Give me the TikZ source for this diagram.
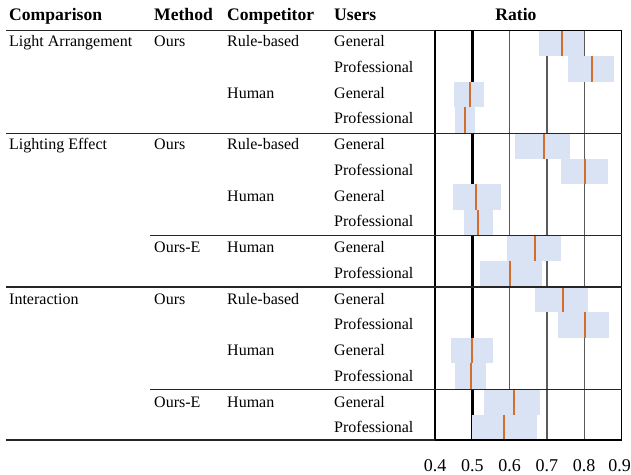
\documentclass[tikz,border=0pt]{standalone}
\usepackage{fontspec}
\setmainfont{Liberation Serif}
\definecolor{boxfill}{HTML}{DAE3F3}
\definecolor{medianline}{HTML}{D46E2C}
\definecolor{gridgray}{HTML}{5A5A5A}
\begin{document}
\begin{tikzpicture}[x=1pt,y=-1pt,
  body/.style={anchor=base west, inner sep=0pt, font=\fontsize{16}{19}\selectfont},
  head/.style={anchor=base west, inner sep=0pt, font=\fontsize{17.6}{21}\selectfont\bfseries},
  ticklabel/.style={anchor=base, inner sep=0pt, font=\fontsize{18}{21}\selectfont},
  tablerule/.style={line width=1.2pt, black!85},
  gridline/.style={line width=1.2pt, gridgray},
  border/.style={line width=1.2pt, black},
  chance/.style={line width=2.6pt, black},
  iqr/.style={fill=boxfill, draw=none},
  med/.style={line width=2pt, medianline}]
\useasboundingbox (0,0) rectangle (631,474);

% ---- header ----
\node[head] (hcmp) at (9,20) {Comparison};
\node[head] (hmth) at (154,20) {Method};
\node[head] (hcpt) at (227,20) {Competitor};
\node[head] (husr) at (334,20) {Users};
\node[head, anchor=base] (hrat) at (516,20) {Ratio};

% ---- table text, one entry per row: comparison / method / competitor / users ----
\foreach \i/\cmp/\mth/\cpt/\usr in {
  1/Light Arrangement/Ours/Rule-based/General,
  2/{}/{}/{}/Professional,
  3/{}/{}/Human/General,
  4/{}/{}/{}/Professional,
  5/Lighting Effect/Ours/Rule-based/General,
  6/{}/{}/{}/Professional,
  7/{}/{}/Human/General,
  8/{}/{}/{}/Professional,
  9/{}/Ours-E/Human/General,
  10/{}/{}/{}/Professional,
  11/Interaction/Ours/Rule-based/General,
  12/{}/{}/{}/Professional,
  13/{}/{}/Human/General,
  14/{}/{}/{}/Professional,
  15/{}/Ours-E/Human/General,
  16/{}/{}/{}/Professional}{
  \pgfmathsetmacro\yb{46.6+25.75*(\i-1)}
  \node[body] (cmp\i) at (9,\yb) {\cmp};
  \node[body] (mth\i) at (154,\yb) {\mth};
  \node[body] (cpt\i) at (227,\yb) {\cpt};
  \node[body] (usr\i) at (334,\yb) {\usr};
}

% ---- ratio plot: x in ratio units, y in pixels ----
\begin{scope}[x=373pt, shift={(285.8pt,0pt)}]
  % interquartile boxes and medians
  \foreach \i/\lo/\hi/\md in {
    1/0.679/0.799/0.740,
    2/0.756/0.881/0.822,
    3/0.451/0.532/0.493,
    4/0.454/0.508/0.481,
    5/0.615/0.763/0.692,
    6/0.738/0.863/0.802,
    7/0.447/0.577/0.510,
    8/0.478/0.556/0.516,
    9/0.594/0.739/0.669,
    10/0.521/0.687/0.602,
    11/0.667/0.811/0.744,
    12/0.730/0.866/0.802,
    13/0.443/0.556/0.500,
    14/0.454/0.537/0.496,
    15/0.531/0.681/0.612,
    16/0.500/0.673/0.584}{
    \pgfmathsetmacro\yt{30.5+25.6*(\i-1)}
    \pgfmathsetmacro\ybt{\yt+25.6}
    \coordinate (blo\i) at (\lo,\yt);
    \coordinate (bhi\i) at (\hi,\ybt);
    \coordinate (mt\i) at (\md,\yt);
    \coordinate (mb\i) at (\md,\ybt);
  }
  % grid behind the boxes
  \foreach \v/\k in {0.6/6,0.7/7,0.8/8}{
    \coordinate (gt\k) at (\v,30.5);
    \coordinate (gb\k) at (\v,440);
    \draw[gridline] (gt\k) -- (gb\k);
  }
  \coordinate (ct) at (0.5,30.5);
  \coordinate (cb) at (0.5,440);
  \draw[chance] (ct) -- (cb);
  \foreach \i in {1,...,16}{
    \path[iqr] (blo\i) rectangle (bhi\i);
    \draw[med] (mt\i) -- (mb\i);
  }
  % frame
  \coordinate (pNW) at (0.4,30.5);
  \coordinate (pSE) at (0.9,440);
  \draw[border] (pNW) rectangle (pSE);
  % group separators across the plot
  \foreach \y/\k in {133.4/1,235.8/2,287/3,389.4/4}{
    \coordinate (sl\k) at (0.4,\y);
    \coordinate (sr\k) at (0.9,\y);
    \draw[tablerule] (sl\k) -- (sr\k);
  }
  % axis tick labels (the last one kept inside the page edge)
  \foreach \v/\k in {0.4/4,0.5/5,0.6/6,0.7/7,0.8/8}{
    \node[ticklabel] (tk\k) at (\v,471) {\v};
  }
  \node[ticklabel, anchor=base east] (tk9) at (0.9,471) [xshift=9.5pt] {0.9};
\end{scope}

% ---- table rules ----
\coordinate (r0a) at (6,30.5);    \coordinate (r0b) at (435,30.5);
\coordinate (r1a) at (6,133.4);   \coordinate (r1b) at (435,133.4);
\coordinate (r2a) at (150,235.8); \coordinate (r2b) at (435,235.8);
\coordinate (r3a) at (6,287);     \coordinate (r3b) at (435,287);
\coordinate (r4a) at (150,389.4); \coordinate (r4b) at (435,389.4);
\coordinate (r5a) at (6,440);     \coordinate (r5b) at (435,440);
\draw[tablerule] (r0a) -- (r0b);
\draw[tablerule] (r1a) -- (r1b);
\draw[tablerule] (r2a) -- (r2b);
\draw[tablerule] (r3a) -- (r3b);
\draw[tablerule] (r4a) -- (r4b);
\draw[tablerule] (r5a) -- (r5b);
\end{tikzpicture}
\end{document}
